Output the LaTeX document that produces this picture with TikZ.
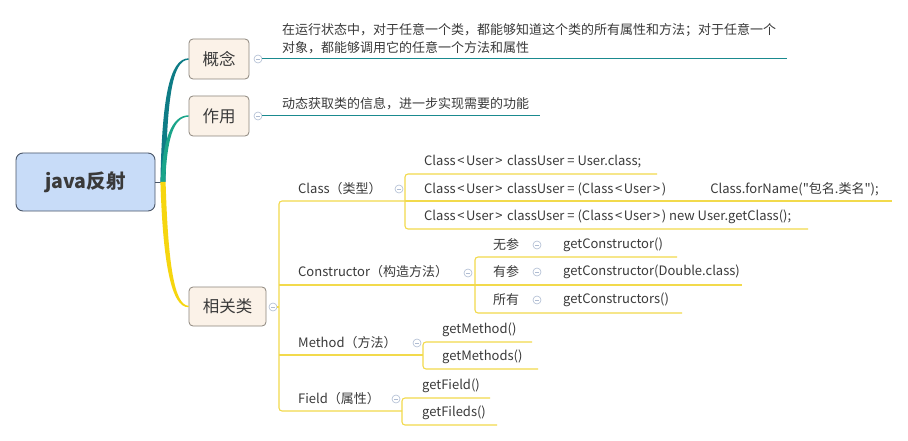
\documentclass[tikz,border=0pt]{standalone}
\usepackage{fontspec}
\setmainfont{Noto Sans CJK SC}
\newfontfamily\cjkplain{Noto Sans CJK SC}
\newcommand\ltc{\hspace{1.6pt}<\hspace{1.6pt}}
\newcommand\gtc{\hspace{1.6pt}>\hspace{1.6pt}}
\definecolor{txtc}{HTML}{3A3A3A}
\definecolor{rootfill}{HTML}{C8DCF8}
\definecolor{rootdraw}{HTML}{4A5668}
\definecolor{boxfill}{HTML}{FBF2E8}
\definecolor{boxdraw}{HTML}{8C857C}
\definecolor{foldc}{HTML}{AFBCD2}
\definecolor{tealA}{HTML}{0E7C86}
\definecolor{tealB}{HTML}{1AA58A}
\definecolor{ylwA}{HTML}{F6D60F}
\definecolor{ylwL}{HTML}{F2DA4C}
\definecolor{tealL}{HTML}{1A8A8F}
\tikzset{
  txt/.style={anchor=west, inner sep=0pt, text=txtc, font=\cjkplain\fontsize{13}{18}\selectfont},
  topic/.style={draw=boxdraw, fill=boxfill, rounded corners=4pt, line width=0.8pt,
    minimum width=60pt, minimum height=40pt, inner sep=0pt, text=txtc,
    font=\fontsize{16.5}{18}\selectfont},
  rootbox/.style={draw=rootdraw, fill=rootfill, rounded corners=7pt, line width=0.9pt,
    minimum width=139pt, minimum height=58pt, inner sep=0pt, text=txtc,
    font=\fontsize{19.5}{22}\selectfont\bfseries},
  fold/.style={circle, draw=foldc, fill=white, line width=0.6pt, minimum size=8pt, inner sep=0pt,
    path picture={\draw[foldc, line width=0.6pt]
      ([xshift=-2pt]path picture bounding box.center) -- ([xshift=2pt]path picture bounding box.center);}},
  uline/.style={draw=ylwL, line width=1.1pt, rounded corners=3pt},
  tline/.style={draw=tealL, line width=1pt},
}
\begin{document}
\begin{tikzpicture}[x=1pt,y=-1pt]
\useasboundingbox[fill=white] (0,0) rectangle (908,441);

% ---------- main nodes ----------
\node[rootbox] (root) at (85.5,182) {java反射};
\node[topic] (gn) at (219,59) {概念};
\node[topic] (zy) at (219,116) {作用};
\node[topic, minimum width=77pt, minimum height=39pt] (xg) at (227.5,306.5) {相关类};

\coordinate (hub) at (163,182);
\draw[rootdraw, line width=0.8pt] (root.east) -- (hub);

% tapered branches
\fill[tealA] ([xshift=-2.6pt]hub) .. controls (162,100) and (169,58.4) .. ([yshift=0.7pt]gn.west)
  -- ([yshift=-0.7pt]gn.west) .. controls (172,60) and (167,100) .. ([xshift=2.6pt]hub) -- cycle;
\fill[tealB] ([xshift=-2.2pt]hub) .. controls (163,140) and (171,115.4) .. ([yshift=0.7pt]zy.west)
  -- ([yshift=-0.7pt]zy.west) .. controls (173,117) and (167,140) .. ([xshift=2.2pt]hub) -- cycle;
\fill[ylwA] ([xshift=-2.6pt]hub) .. controls (163,262) and (171,307.8) .. ([yshift=-0.7pt]xg.west)
  -- ([yshift=0.7pt]xg.west) .. controls (174,305.5) and (168,262) .. ([xshift=2.6pt]hub) -- cycle;

% ---------- 概念 / 作用 ----------
\node[fold] (f1) at (258,59) {};
\node[fold] (f2) at (258,116) {};
\coordinate (gnend) at (787,59);
\coordinate (zyend) at (540,116);
\draw[tline] (f1.east) -- (gnend);
\draw[tline] (f2.east) -- (zyend);
\node[txt, align=left] (d1) at (282,39) {在运行状态中，对于任意一个类，都能够知道这个类的所有属性和方法；对于任意一个\\对象，都能够调用它的任意一个方法和属性};
\node[txt] (d2) at (282,104) {动态获取类的信息，进一步实现需要的功能};

% ---------- 相关类 tree lines ----------
\node[fold] (f3) at (273,307) {};
\draw[uline] (f3.east) -- (279,307);
\coordinate (vt) at (279,201);
\coordinate (vb) at (279,411);
\coordinate (cb) at (405,201);
\coordinate (kb) at (475,285);
\coordinate (mb) at (423,355);
\coordinate (fb) at (402,411);
\draw[uline] (cb) -- (vt) -- (vb) -- (fb);
\draw[uline] (279,285) -- (kb);
\draw[uline] (279,355) -- (mb);

% Class
\node[txt] (cls) at (298,189) {Class（类型）};
\node[fold] (fc) at (399,189) {};
\coordinate (c1e) at (657,174);
\coordinate (c2e) at (892,201);
\coordinate (c3e) at (808,229);
\draw[uline] (c1e) -- (405,174) -- (405,229) -- (c3e);
\draw[uline] (cb) -- (c2e);
\node[txt] (c1) at (424,161.5) {Class\ltc User\gtc{} classUser = User.class;};
\node[txt] (c2) at (424,189) {Class\ltc User\gtc{} classUser = (Class\ltc User\gtc)\hspace{44pt}Class.forName("包名.类名");};
\node[txt] (c3) at (424,217) {Class\ltc User\gtc{} classUser = (Class\ltc User\gtc) new User.getClass();};

% Constructor
\node[txt] (con) at (298,272) {Constructor（构造方法）};
\node[fold] (fk) at (468,273) {};
\coordinate (k1e) at (677,257);
\coordinate (k2e) at (742,285);
\coordinate (k3e) at (682,313);
\draw[uline] (k1e) -- (475,257) -- (475,313) -- (k3e);
\draw[uline] (kb) -- (k2e);
\node[txt] (k1) at (493,244.5) {无参};
\node[txt] (k2) at (493,272) {有参};
\node[txt] (k3) at (493,300) {所有};
\node[fold] (fk1) at (537,245) {};
\node[fold] (fk2) at (537,272) {};
\node[fold] (fk3) at (537,300) {};
\node[txt] (k1c) at (563,244.5) {getConstructor()};
\node[txt] (k2c) at (563,272) {getConstructor(Double.class)};
\node[txt] (k3c) at (563,300) {getConstructors()};

% Method
\node[txt] (met) at (298,343) {Method（方法）};
\node[fold] (fm) at (417,343) {};
\coordinate (m1e) at (532,342);
\coordinate (m2e) at (538,369);
\draw[uline] (m1e) -- (423,342) -- (423,369) -- (m2e);
\node[txt] (m1) at (442,330) {getMethod()};
\node[txt] (m2) at (442,357) {getMethods()};

% Field
\node[txt] (fld) at (298,399) {Field（属性）};
\node[fold] (ff) at (396,399) {};
\coordinate (g1e) at (490,398);
\coordinate (g2e) at (497,425);
\draw[uline] (g1e) -- (402,398) -- (402,425) -- (g2e);
\node[txt] (g1) at (422,385.5) {getField()};
\node[txt] (g2) at (422,413) {getFileds()};
\end{tikzpicture}
\end{document}
